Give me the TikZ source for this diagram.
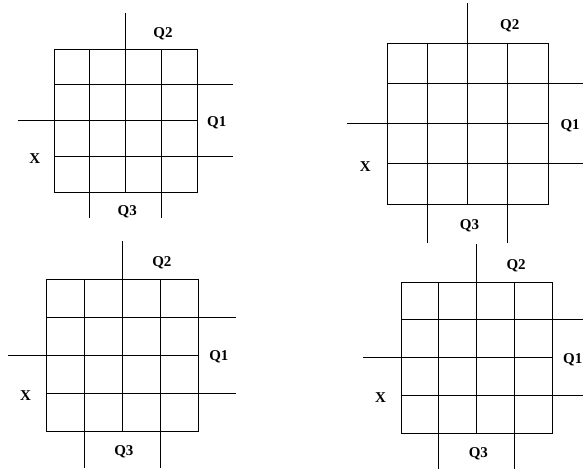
\documentclass[tikz,border=0pt]{standalone}
\usepackage{fontspec}
\setmainfont{Liberation Serif}

\tikzset{
  kline/.style={black, line width=0.9pt},
  klabel/.style={font=\bfseries\fontsize{15}{15}\selectfont, inner sep=0pt}
}

\begin{document}
\begin{tikzpicture}
\useasboundingbox (0,0) rectangle (583pt,470pt);
% four maps: corner x / corner y / cell size / length of the Q3 lines / name
\foreach \gx/\gy/\c/\dn/\n in {54/278/35.75/0.73/a, 387/266/40.25/0.97/b, 46/39/38/0.97/c, 401/37/37.75/0.95/d}{
\begin{scope}[shift={(\gx pt,\gy pt)}, x=\c pt, y=\c pt]
\draw[kline] (0,0) rectangle (4,4);
\draw[kline] (1,0) -- (1,4);
\draw[kline] (3,0) -- (3,4);
\draw[kline] (0,2) -- (4,2);
% Q2
\draw[kline] (2,0) -- (2,5);
\node[klabel] (q2\n) at (3.05,4.43) {Q2};
% Q1
\draw[kline] (0,3) -- (5,3);
\draw[kline] (0,1) -- (5,1);
\node[klabel] (q1\n) at (4.55,1.95) {Q1};
% X
\draw[kline] (-1,2) -- (0,2);
\node[klabel] (x\n) at (-0.54,0.93) {X};
% Q3
\draw[kline] (1,0) -- (1,-\dn);
\draw[kline] (3,0) -- (3,-\dn);
\node[klabel] (q3\n) at (2.05,-0.54) {Q3};
\end{scope}
}
\end{tikzpicture}
\end{document}
